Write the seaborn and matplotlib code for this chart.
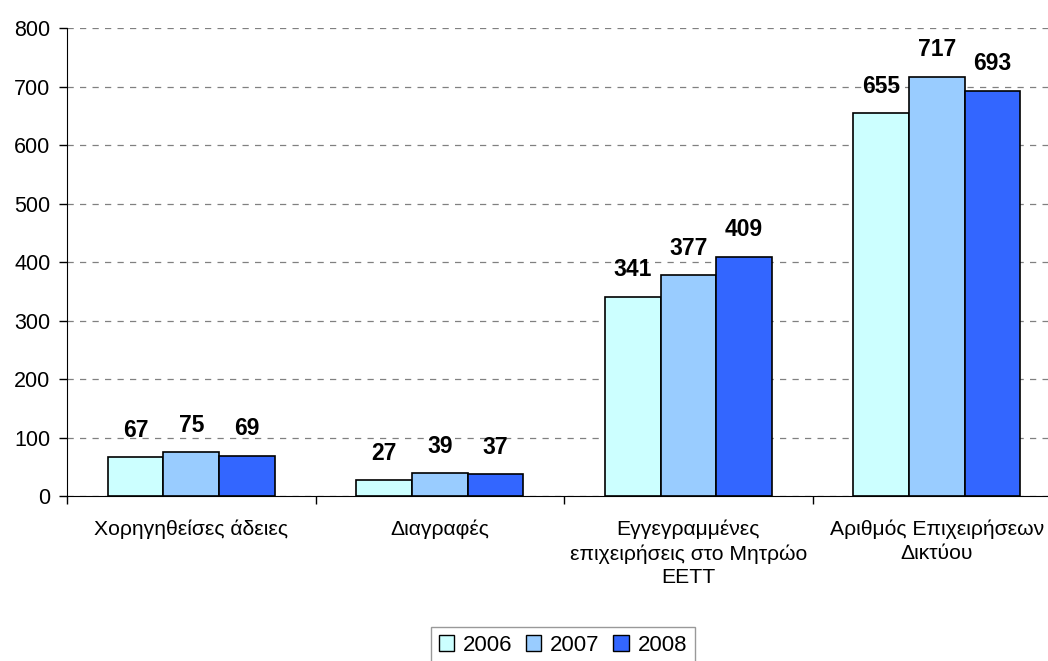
import pandas as pd
import seaborn as sns
import matplotlib.pyplot as plt
from matplotlib.patches import Patch

categories = ['Χορηγηθείσες άδειες', 'Διαγραφές',
              'Εγγεγραμμένες\nεπιχειρήσεις στο Μητρώο\nΕΕΤΤ',
              'Αριθμός Επιχειρήσεων\nΔικτύου']
years = ['2006', '2007', '2008']
v2006 = [67, 27, 341, 655]
v2007 = [75, 39, 377, 717]
v2008 = [69, 37, 409, 693]
colors = ['#CCFFFF', '#99CCFF', '#3366FF']

rows = []
for y, vals in zip(years, [v2006, v2007, v2008]):
    for c, v in zip(categories, vals):
        rows.append({'cat': c, 'year': y, 'value': v})
df = pd.DataFrame(rows)

sns.set_style('white')
plt.rcParams['font.family'] = ['Liberation Sans', 'DejaVu Sans']
plt.rcParams['text.color'] = 'black'
plt.rcParams['xtick.color'] = 'black'
plt.rcParams['ytick.color'] = 'black'

fig = plt.figure(figsize=(10.48, 6.61), dpi=100)
# plot area runs slightly past the right edge, as in the original
ax = fig.add_axes([0.064, 0.2496, 0.9485, 0.708])
sns.barplot(data=df, x='cat', y='value', hue='year', palette=colors, saturation=1,
            width=0.672, edgecolor='black', linewidth=1.2, ax=ax, legend=False)

for cont in ax.containers:
    for bar in cont:
        h = bar.get_height()
        ax.annotate(f'{h:.0f}', (bar.get_x() + bar.get_width() / 2, h),
                    xytext=(0, 11), textcoords='offset points',
                    ha='center', va='bottom', fontsize=16.5, fontweight='bold')

ax.set_ylim(0, 800)
ax.set_yticks(range(0, 801, 100))
ax.set_xlim(-0.5, 3.5)
ax.yaxis.grid(True, linestyle=(0, (5, 5)), color='#808080', linewidth=0.9)
ax.set_axisbelow(True)
for s in ['top', 'right']:
    ax.spines[s].set_visible(False)
ax.spines['left'].set_color('black')
ax.spines['bottom'].set_color('black')
ax.tick_params(axis='y', direction='out', length=6, width=1, left=True, labelsize=15.5, pad=6)
ax.tick_params(axis='x', which='major', length=0, labelsize=15.2, pad=17)
for lbl in ax.get_xticklabels():
    lbl.set_linespacing(1.32)
ax.set_xticks([-0.5, 0.5, 1.5, 2.5, 3.5], minor=True)
ax.tick_params(axis='x', which='minor', direction='out', length=6, width=1, bottom=True)
ax.set_xlabel('')
ax.set_ylabel('')

handles = [Patch(facecolor=c, edgecolor='black', label=y) for c, y in zip(colors, years)]
fig.legend(handles=handles, loc='upper center', bbox_to_anchor=(0.537, 0.0514), ncol=3,
           fontsize=16, frameon=True, fancybox=False, edgecolor='#808080',
           handlelength=0.7, handleheight=0.7, handletextpad=0.4, columnspacing=0.6,
           borderpad=0.35, borderaxespad=0)

fig.savefig('out.png', dpi=100)
